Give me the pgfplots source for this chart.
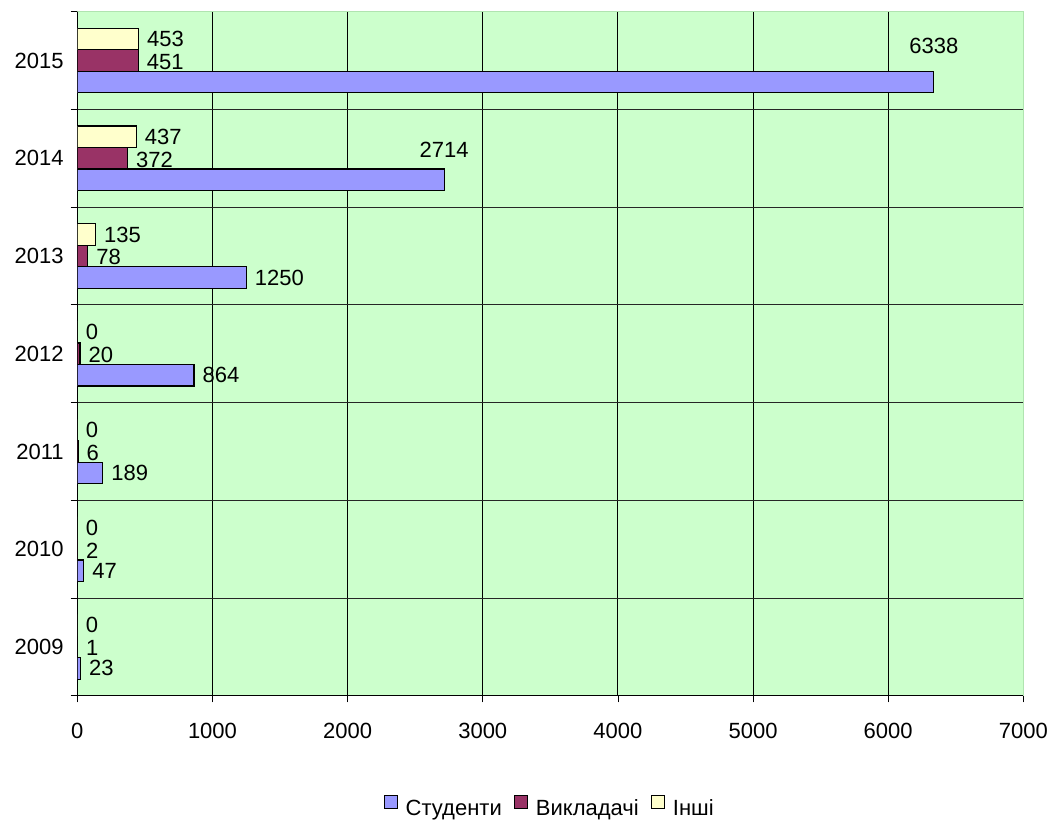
\documentclass[border=0pt]{standalone}
\usepackage{fontspec}
\setmainfont{Liberation Sans}
\usepackage{pgfplots}
\pgfplotsset{compat=1.18}

\definecolor{stud}{HTML}{9999FF}
\definecolor{vykl}{HTML}{993366}
\definecolor{inshi}{HTML}{FFFFCC}
\definecolor{plotbg}{HTML}{CCFFCC}
\definecolor{plotedge}{HTML}{B0E4B0}

\newcommand{\lbl}{\fontsize{16.5}{19.5}\selectfont}

\begin{document}
\begin{tikzpicture}
\useasboundingbox (-58pt,-94pt) rectangle (732.5pt,521.8pt);
\begin{axis}[
    at={(0,0)}, anchor=south west,
    scale only axis,
    width=709.5pt, height=513pt,
    xmin=0, xmax=7000,
    ymin=-0.5, ymax=6.5,
    axis x line*=bottom, axis y line*=left,
    axis line style={black, line width=0.8pt},
    axis background/.style={fill=plotbg, draw=plotedge, line width=0.8pt},
    tick align=outside,
    major tick length=5pt,
    tick style={black, line width=0.6pt},
    xtick={0,1000,...,6000},
    extra x ticks={7000},
    extra x tick style={grid=none},
    xmajorgrids,
    every axis x grid/.append style={black, line width=0.7pt},
    ytick={-0.5,0.5,...,6.5},
    yticklabels={},
    ymajorgrids,
    every axis y grid/.append style={black!85, line width=0.7pt},
    extra y ticks={0,1,2,3,4,5,6},
    extra y tick labels={2009,2010,2011,2012,2013,2014,2015},
    extra y tick style={grid=none, major tick length=0pt, tick style={draw=none}},
    ticklabel style={font=\lbl},
    yticklabel style={xshift=-6.75pt},
    xticklabel style={yshift=-12pt},
    /pgf/number format/1000 sep={},
    /pgf/number format/assume math mode=true,
    legend style={at={(0.5,-0.1637)}, anchor=center, draw=none, fill=none,
        font=\lbl, legend columns=-1,
        /tikz/every odd column/.append style={column sep=4pt},
        /tikz/every even column/.append style={column sep=7.5pt}},
    legend image code/.code={\draw[#1, draw=black, line width=0.6pt] (0pt,-0.5pt) rectangle (9.5pt,9pt);},
]
% one category is 513pt/7 = 73.3pt high; a bar shift of 0.22 is 16.1pt
% Студенти, 2009-2013: labels at the bar end
\addplot[xbar, bar width=0.22, bar shift=-0.22, fill=stud, draw=black, line width=0.9pt,
    point meta=x, nodes near coords,
    every node near coord/.append style={anchor=west, xshift=6pt, yshift=-16.1pt, inner sep=0pt, font=\lbl, black}]
    coordinates {(23,0) (47,1) (189,2) (864,3) (1250,4)};
\addlegendentry{\strut Студенти}
% Студенти, 2014 and 2015: labels above the bar end
\addplot[xbar, bar width=0.22, bar shift=-0.22, fill=stud, draw=black, line width=0.9pt,
    point meta=x, nodes near coords, forget plot,
    every node near coord/.append style={anchor=center, yshift=6.4pt, inner sep=0pt, font=\lbl, black}]
    coordinates {(2714,5)};
\addplot[xbar, bar width=0.22, bar shift=-0.22, fill=stud, draw=black, line width=0.9pt,
    point meta=x, nodes near coords, forget plot,
    every node near coord/.append style={anchor=center, yshift=10.9pt, inner sep=0pt, font=\lbl, black}]
    coordinates {(6338,6)};
% Викладачі
\addplot[xbar, bar width=0.22, bar shift=0, fill=vykl, draw=black, line width=0.9pt,
    point meta=x, nodes near coords,
    every node near coord/.append style={anchor=west, xshift=6pt, yshift=-1pt, inner sep=0pt, font=\lbl, black}]
    coordinates {(1,0) (2,1) (6,2) (20,3) (78,4) (372,5) (451,6)};
\addlegendentry{\strut Викладачі}
% Інші
\addplot[xbar, bar width=0.22, bar shift=0.22, fill=inshi, draw=black, line width=0.9pt,
    point meta=x, nodes near coords,
    every node near coord/.append style={anchor=west, xshift=6pt, yshift=16.1pt, inner sep=0pt, font=\lbl, black}]
    coordinates {(0,0) (0,1) (0,2) (0,3) (135,4) (437,5) (453,6)};
\addlegendentry{\strut Інші}
\draw[plotedge, line width=0.8pt] (rel axis cs:0,1) -- (rel axis cs:1,1);
\end{axis}
\end{tikzpicture}
\end{document}
